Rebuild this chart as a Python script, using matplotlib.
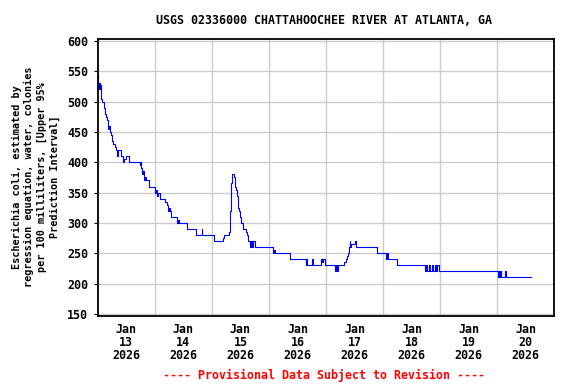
import numpy as np
import pandas as pd
import matplotlib
matplotlib.use('Agg')
import matplotlib.pyplot as plt
import matplotlib.dates as mdates

# step breakpoints: hours since 2026-01-13 00:00, E. coli upper 95% (colonies/100 mL)
hours = [0, 0.3, 0.6, 0.9, 1.2, 1.5, 1.9, 2.8, 3.2, 3.6, 4.0, 4.5, 4.9, 5.2, 5.7,
         6.2, 6.6, 7.4, 7.8, 8.2, 8.6, 9.9, 10.7, 11.2, 12.0, 13.3, 17.6, 17.9,
         18.2, 18.5, 19.0, 19.6, 20.0, 20.3, 21.7, 24.1, 24.5, 24.9, 25.3, 26.1,
         28.5, 29.0, 29.5, 29.9, 30.3, 30.9, 33.2, 33.6, 34.0, 37.5, 41.2, 43.7,
         44.0, 49.1, 52.9, 53.3, 55.1, 55.7, 56.0, 56.4, 57.2, 57.7, 58.1, 58.5,
         58.9, 59.4, 59.8, 60.2, 60.9, 62.2, 62.7, 63.4, 64.2, 64.6, 65.0, 65.4,
         66.1, 73.7, 74.2, 74.6, 80.7, 87.4, 87.7, 88.0, 90.1, 90.4, 93.9, 94.3,
         94.7, 95.7, 99.8, 100.2, 100.6, 100.9, 103.7, 104.3, 104.8, 105.3, 105.7,
         105.9, 106.2, 106.6, 108.3, 108.6, 117.5, 121.4, 121.8, 122.2, 125.9,
         137.8, 138.2, 138.6, 139.4, 139.8, 140.6, 141.0, 141.8, 142.2, 142.6,
         143.4, 168.2, 168.6, 169.0, 169.4, 169.8, 171.4, 171.8, 182.0]
values = [545, 520, 530, 520, 527, 505, 500, 490, 480, 475, 470, 455, 460, 450, 445,
          435, 430, 425, 420, 410, 420, 410, 400, 405, 410, 400, 395, 400,
          390, 380, 385, 370, 375, 370, 360, 350, 355, 345, 350, 340,
          335, 330, 320, 325, 320, 310, 300, 305, 300, 290, 280, 290,
          280, 270, 275, 280, 285, 320, 365, 380, 375, 360, 355, 345,
          325, 320, 310, 300, 290, 285, 280, 270, 260, 270, 260, 270,
          260, 250, 255, 250, 240, 230, 240, 230, 240, 230, 240, 235,
          240, 230, 220, 230, 220, 230, 235, 240, 245, 250, 260,
          270, 260, 265, 270, 260, 250, 240, 250, 240, 230,
          220, 230, 220, 230, 220, 230, 220, 230, 220, 230,
          220, 210, 220, 210, 220, 210, 220, 210, 210]

day_labels = ['Jan\n13\n2026', 'Jan\n14\n2026', 'Jan\n15\n2026', 'Jan\n16\n2026',
              'Jan\n17\n2026', 'Jan\n18\n2026', 'Jan\n19\n2026', 'Jan\n20\n2026']
yticks = [150, 200, 250, 300, 350, 400, 450, 500, 550, 600]

start = pd.Timestamp('2026-01-13')
times = start + pd.to_timedelta(hours, unit='h')

plt.rcParams['font.family'] = ['DejaVu Sans Mono']
plt.rcParams['font.weight'] = 'bold'

fig = plt.figure(figsize=(5.76, 3.84), dpi=100)
ax = fig.add_axes([0.1696, 0.178, 0.7927, 0.720])

ax.plot(times, values, color='#0000ff', linewidth=0.8, drawstyle='steps-post')

ax.set_ylim(147, 603)
ax.set_xlim(start, start + pd.Timedelta(days=8))
ax.set_yticks(yticks)
ax.tick_params(axis='y', labelsize=8.4, length=3, width=0.8, pad=4)

midnights = [start + pd.Timedelta(days=i) for i in range(1, 8)]
noons = [start + pd.Timedelta(hours=12 + 24 * i) for i in range(8)]
ax.set_xticks(noons)
ax.set_xticklabels(day_labels)
ax.set_xticks(midnights, minor=True)
ax.tick_params(axis='x', which='both', length=0, labelsize=8.4, pad=5)
for lab in ax.get_xticklabels():
    lab.set_linespacing(1.02)

ax.grid(True, which='minor', axis='x', color='#cccccc', linewidth=1)
ax.grid(True, which='major', axis='y', color='#cccccc', linewidth=1)
ax.set_axisbelow(True)
for s in ax.spines.values():
    s.set_linewidth(1.3)

fig.text(0.0625, 1 - 177 / 384,
         'Escherichia coli, estimated by\nregression equation, water, colonies\n'
         'per 100 milliliters, [Upper 95%\nPrediction Interval]',
         rotation=90, ha='center', va='center', fontsize=7.3, linespacing=1.35,
         multialignment='center')
fig.text(324 / 576, 1 - 20 / 384, 'USGS 02336000 CHATTAHOOCHEE RIVER AT ATLANTA, GA',
         ha='center', va='center', fontsize=8.4)
fig.text(324 / 576, 1 - 375 / 384, '---- Provisional Data Subject to Revision ----',
         ha='center', va='center', fontsize=8.4, color='red')

fig.savefig('out.png', dpi=100)
